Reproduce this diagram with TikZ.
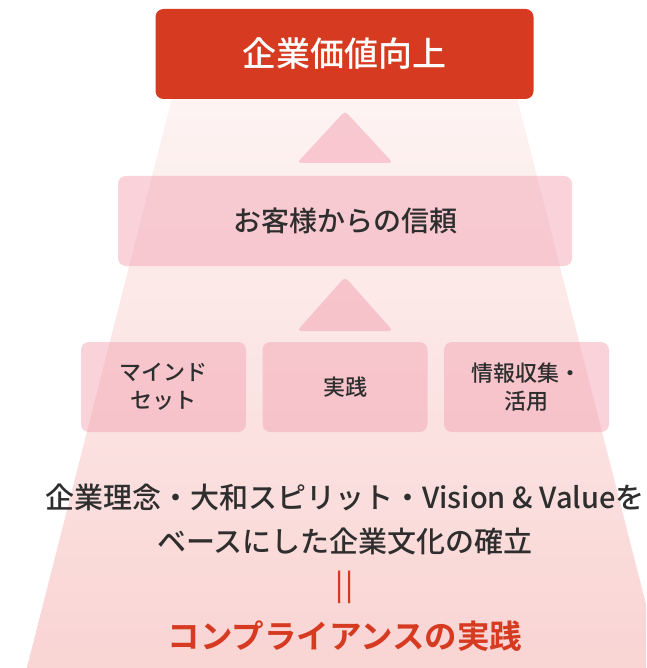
\documentclass[tikz,border=0pt]{standalone}
\usepackage{fontspec}
\setmainfont{Noto Sans CJK JP}[UprightFont=* Medium, BoldFont=* Bold]
\definecolor{topred}{HTML}{D63A20}
\definecolor{txtdark}{HTML}{2E2E2E}
\definecolor{boxpink}{HTML}{F4A6B5}
\definecolor{trtop}{HTML}{FDF4F3}
\definecolor{trbot}{HTML}{F9D4D3}
\tikzset{
  pinkbox/.style={fill=boxpink, fill opacity=0.5, text opacity=1, rounded corners=8pt, text=txtdark},
  smallbox/.style={pinkbox, minimum width=165pt, minimum height=90pt, align=center, font=\fontsize{22}{28}\selectfont},
  uptri/.style={fill=boxpink, fill opacity=0.55, rounded corners=4pt},
  bodytxt/.style={text=txtdark, font=\fontsize{29}{34}\selectfont, inner sep=0pt}
}
\begin{document}
\begin{tikzpicture}[x=1pt,y=-1pt]
\useasboundingbox (0,0) rectangle (646,668);
\clip (0,0) rectangle (646,668);
% trapezoid background
\shade[top color=trtop, bottom color=trbot, rounded corners=6pt]
  (174,90) -- (515,90) -- (664,675) -- (25,675) -- cycle;
% top box
\node[fill=topred, rounded corners=8pt, minimum width=378pt, minimum height=90pt, text=white,
  font=\fontsize{34}{40}\selectfont] (top) at (344.5,54) {企業価値向上};
% triangles
\draw[uptri, draw=none] (345,111) -- (393,163) -- (297,163) -- cycle;
% middle box
\node[pinkbox, minimum width=454pt, minimum height=90pt, font=\fontsize{28}{32}\selectfont] (trust) at (345,221) {お客様からの信頼};
\draw[uptri, draw=none] (345,277) -- (393,331) -- (297,331) -- cycle;
% three boxes
\node[smallbox] (mind) at (163.5,387) {マインド\\セット};
\node[smallbox] (prac) at (345,387) {実践};
\node[smallbox] (info) at (526.5,387) {情報収集・\\活用};
% bottom text
\node[bodytxt] (l1) at (345,497) {企業理念・大和スピリット・Vision \& Valueを};
\node[bodytxt] (l2) at (345,541) {ベースにした企業文化の確立};
\node[text=topred, font=\fontsize{29}{34}\selectfont, inner sep=0pt] (eq) at (345,587) {|\kern2pt|};
\node[text=topred, font=\fontsize{32.5}{36}\selectfont\bfseries, inner sep=0pt] (comp) at (345,636) {コンプライアンスの実践};
\end{tikzpicture}
\end{document}
